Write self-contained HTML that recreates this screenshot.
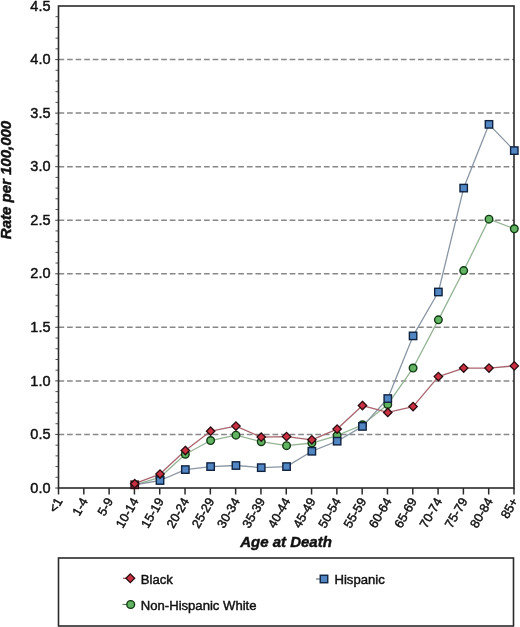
<!DOCTYPE html><html><head><meta charset="utf-8"><style>
html,body{margin:0;padding:0;background:#fff;}
body{width:520px;height:627px;overflow:hidden;position:relative;}
svg{position:absolute;left:0;top:0;will-change:transform;}
text{font-family:"Liberation Sans",sans-serif;fill:#111;stroke:#111;stroke-width:0.45px;}
</style></head><body>
<svg width="520" height="627" viewBox="0 0 520 627">
<line x1="58.50" y1="434.44" x2="514.00" y2="434.44" stroke="#888888" stroke-width="1.5" stroke-dasharray="5.7 2.86"/>
<line x1="58.50" y1="380.89" x2="514.00" y2="380.89" stroke="#888888" stroke-width="1.5" stroke-dasharray="5.7 2.86"/>
<line x1="58.50" y1="327.33" x2="514.00" y2="327.33" stroke="#888888" stroke-width="1.5" stroke-dasharray="5.7 2.86"/>
<line x1="58.50" y1="273.78" x2="514.00" y2="273.78" stroke="#888888" stroke-width="1.5" stroke-dasharray="5.7 2.86"/>
<line x1="58.50" y1="220.22" x2="514.00" y2="220.22" stroke="#888888" stroke-width="1.5" stroke-dasharray="5.7 2.86"/>
<line x1="58.50" y1="166.67" x2="514.00" y2="166.67" stroke="#888888" stroke-width="1.5" stroke-dasharray="5.7 2.86"/>
<line x1="58.50" y1="113.11" x2="514.00" y2="113.11" stroke="#888888" stroke-width="1.5" stroke-dasharray="5.7 2.86"/>
<line x1="58.50" y1="59.56" x2="514.00" y2="59.56" stroke="#888888" stroke-width="1.5" stroke-dasharray="5.7 2.86"/>
<line x1="55.20" y1="488.00" x2="58.50" y2="488.00" stroke="#555" stroke-width="1.1"/>
<line x1="55.50" y1="477.29" x2="58.50" y2="477.29" stroke="#555" stroke-width="1"/>
<line x1="55.50" y1="466.58" x2="58.50" y2="466.58" stroke="#555" stroke-width="1"/>
<line x1="55.50" y1="455.87" x2="58.50" y2="455.87" stroke="#555" stroke-width="1"/>
<line x1="55.50" y1="445.16" x2="58.50" y2="445.16" stroke="#555" stroke-width="1"/>
<line x1="55.20" y1="434.44" x2="58.50" y2="434.44" stroke="#555" stroke-width="1.1"/>
<line x1="55.50" y1="423.73" x2="58.50" y2="423.73" stroke="#555" stroke-width="1"/>
<line x1="55.50" y1="413.02" x2="58.50" y2="413.02" stroke="#555" stroke-width="1"/>
<line x1="55.50" y1="402.31" x2="58.50" y2="402.31" stroke="#555" stroke-width="1"/>
<line x1="55.50" y1="391.60" x2="58.50" y2="391.60" stroke="#555" stroke-width="1"/>
<line x1="55.20" y1="380.89" x2="58.50" y2="380.89" stroke="#555" stroke-width="1.1"/>
<line x1="55.50" y1="370.18" x2="58.50" y2="370.18" stroke="#555" stroke-width="1"/>
<line x1="55.50" y1="359.47" x2="58.50" y2="359.47" stroke="#555" stroke-width="1"/>
<line x1="55.50" y1="348.76" x2="58.50" y2="348.76" stroke="#555" stroke-width="1"/>
<line x1="55.50" y1="338.04" x2="58.50" y2="338.04" stroke="#555" stroke-width="1"/>
<line x1="55.20" y1="327.33" x2="58.50" y2="327.33" stroke="#555" stroke-width="1.1"/>
<line x1="55.50" y1="316.62" x2="58.50" y2="316.62" stroke="#555" stroke-width="1"/>
<line x1="55.50" y1="305.91" x2="58.50" y2="305.91" stroke="#555" stroke-width="1"/>
<line x1="55.50" y1="295.20" x2="58.50" y2="295.20" stroke="#555" stroke-width="1"/>
<line x1="55.50" y1="284.49" x2="58.50" y2="284.49" stroke="#555" stroke-width="1"/>
<line x1="55.20" y1="273.78" x2="58.50" y2="273.78" stroke="#555" stroke-width="1.1"/>
<line x1="55.50" y1="263.07" x2="58.50" y2="263.07" stroke="#555" stroke-width="1"/>
<line x1="55.50" y1="252.36" x2="58.50" y2="252.36" stroke="#555" stroke-width="1"/>
<line x1="55.50" y1="241.64" x2="58.50" y2="241.64" stroke="#555" stroke-width="1"/>
<line x1="55.50" y1="230.93" x2="58.50" y2="230.93" stroke="#555" stroke-width="1"/>
<line x1="55.20" y1="220.22" x2="58.50" y2="220.22" stroke="#555" stroke-width="1.1"/>
<line x1="55.50" y1="209.51" x2="58.50" y2="209.51" stroke="#555" stroke-width="1"/>
<line x1="55.50" y1="198.80" x2="58.50" y2="198.80" stroke="#555" stroke-width="1"/>
<line x1="55.50" y1="188.09" x2="58.50" y2="188.09" stroke="#555" stroke-width="1"/>
<line x1="55.50" y1="177.38" x2="58.50" y2="177.38" stroke="#555" stroke-width="1"/>
<line x1="55.20" y1="166.67" x2="58.50" y2="166.67" stroke="#555" stroke-width="1.1"/>
<line x1="55.50" y1="155.96" x2="58.50" y2="155.96" stroke="#555" stroke-width="1"/>
<line x1="55.50" y1="145.24" x2="58.50" y2="145.24" stroke="#555" stroke-width="1"/>
<line x1="55.50" y1="134.53" x2="58.50" y2="134.53" stroke="#555" stroke-width="1"/>
<line x1="55.50" y1="123.82" x2="58.50" y2="123.82" stroke="#555" stroke-width="1"/>
<line x1="55.20" y1="113.11" x2="58.50" y2="113.11" stroke="#555" stroke-width="1.1"/>
<line x1="55.50" y1="102.40" x2="58.50" y2="102.40" stroke="#555" stroke-width="1"/>
<line x1="55.50" y1="91.69" x2="58.50" y2="91.69" stroke="#555" stroke-width="1"/>
<line x1="55.50" y1="80.98" x2="58.50" y2="80.98" stroke="#555" stroke-width="1"/>
<line x1="55.50" y1="70.27" x2="58.50" y2="70.27" stroke="#555" stroke-width="1"/>
<line x1="55.20" y1="59.56" x2="58.50" y2="59.56" stroke="#555" stroke-width="1.1"/>
<line x1="55.50" y1="48.84" x2="58.50" y2="48.84" stroke="#555" stroke-width="1"/>
<line x1="55.50" y1="38.13" x2="58.50" y2="38.13" stroke="#555" stroke-width="1"/>
<line x1="55.50" y1="27.42" x2="58.50" y2="27.42" stroke="#555" stroke-width="1"/>
<line x1="55.50" y1="16.71" x2="58.50" y2="16.71" stroke="#555" stroke-width="1"/>
<line x1="58.50" y1="488.00" x2="58.50" y2="494.50" stroke="#2a2a2a" stroke-width="1.5"/>
<line x1="83.81" y1="488.00" x2="83.81" y2="494.50" stroke="#2a2a2a" stroke-width="1.5"/>
<line x1="109.11" y1="488.00" x2="109.11" y2="494.50" stroke="#2a2a2a" stroke-width="1.5"/>
<line x1="134.42" y1="488.00" x2="134.42" y2="494.50" stroke="#2a2a2a" stroke-width="1.5"/>
<line x1="159.72" y1="488.00" x2="159.72" y2="494.50" stroke="#2a2a2a" stroke-width="1.5"/>
<line x1="185.03" y1="488.00" x2="185.03" y2="494.50" stroke="#2a2a2a" stroke-width="1.5"/>
<line x1="210.33" y1="488.00" x2="210.33" y2="494.50" stroke="#2a2a2a" stroke-width="1.5"/>
<line x1="235.64" y1="488.00" x2="235.64" y2="494.50" stroke="#2a2a2a" stroke-width="1.5"/>
<line x1="260.94" y1="488.00" x2="260.94" y2="494.50" stroke="#2a2a2a" stroke-width="1.5"/>
<line x1="286.25" y1="488.00" x2="286.25" y2="494.50" stroke="#2a2a2a" stroke-width="1.5"/>
<line x1="311.56" y1="488.00" x2="311.56" y2="494.50" stroke="#2a2a2a" stroke-width="1.5"/>
<line x1="336.86" y1="488.00" x2="336.86" y2="494.50" stroke="#2a2a2a" stroke-width="1.5"/>
<line x1="362.17" y1="488.00" x2="362.17" y2="494.50" stroke="#2a2a2a" stroke-width="1.5"/>
<line x1="387.47" y1="488.00" x2="387.47" y2="494.50" stroke="#2a2a2a" stroke-width="1.5"/>
<line x1="412.78" y1="488.00" x2="412.78" y2="494.50" stroke="#2a2a2a" stroke-width="1.5"/>
<line x1="438.08" y1="488.00" x2="438.08" y2="494.50" stroke="#2a2a2a" stroke-width="1.5"/>
<line x1="463.39" y1="488.00" x2="463.39" y2="494.50" stroke="#2a2a2a" stroke-width="1.5"/>
<line x1="488.69" y1="488.00" x2="488.69" y2="494.50" stroke="#2a2a2a" stroke-width="1.5"/>
<line x1="514.00" y1="488.00" x2="514.00" y2="494.50" stroke="#2a2a2a" stroke-width="1.5"/>
<rect x="58.50" y="6.00" width="455.50" height="482.00" fill="none" stroke="#2a2a2a" stroke-width="1.6"/>
<text x="50.50" y="492.70" font-size="14.5" text-anchor="end">0.0</text>
<text x="50.50" y="439.14" font-size="14.5" text-anchor="end">0.5</text>
<text x="50.50" y="385.59" font-size="14.5" text-anchor="end">1.0</text>
<text x="50.50" y="332.03" font-size="14.5" text-anchor="end">1.5</text>
<text x="50.50" y="278.48" font-size="14.5" text-anchor="end">2.0</text>
<text x="50.50" y="224.92" font-size="14.5" text-anchor="end">2.5</text>
<text x="50.50" y="171.37" font-size="14.5" text-anchor="end">3.0</text>
<text x="50.50" y="117.81" font-size="14.5" text-anchor="end">3.5</text>
<text x="50.50" y="64.26" font-size="14.5" text-anchor="end">4.0</text>
<text x="50.50" y="10.70" font-size="14.5" text-anchor="end">4.5</text>
<text x="0" y="0" font-size="12.6" text-anchor="end" transform="translate(63.00,501.00) rotate(-60)">&lt;1</text>
<text x="0" y="0" font-size="12.6" text-anchor="end" transform="translate(88.31,501.00) rotate(-60)">1-4</text>
<text x="0" y="0" font-size="12.6" text-anchor="end" transform="translate(113.61,501.00) rotate(-60)">5-9</text>
<text x="0" y="0" font-size="12.6" text-anchor="end" transform="translate(138.92,501.00) rotate(-60)">10-14</text>
<text x="0" y="0" font-size="12.6" text-anchor="end" transform="translate(164.22,501.00) rotate(-60)">15-19</text>
<text x="0" y="0" font-size="12.6" text-anchor="end" transform="translate(189.53,501.00) rotate(-60)">20-24</text>
<text x="0" y="0" font-size="12.6" text-anchor="end" transform="translate(214.83,501.00) rotate(-60)">25-29</text>
<text x="0" y="0" font-size="12.6" text-anchor="end" transform="translate(240.14,501.00) rotate(-60)">30-34</text>
<text x="0" y="0" font-size="12.6" text-anchor="end" transform="translate(265.44,501.00) rotate(-60)">35-39</text>
<text x="0" y="0" font-size="12.6" text-anchor="end" transform="translate(290.75,501.00) rotate(-60)">40-44</text>
<text x="0" y="0" font-size="12.6" text-anchor="end" transform="translate(316.06,501.00) rotate(-60)">45-49</text>
<text x="0" y="0" font-size="12.6" text-anchor="end" transform="translate(341.36,501.00) rotate(-60)">50-54</text>
<text x="0" y="0" font-size="12.6" text-anchor="end" transform="translate(366.67,501.00) rotate(-60)">55-59</text>
<text x="0" y="0" font-size="12.6" text-anchor="end" transform="translate(391.97,501.00) rotate(-60)">60-64</text>
<text x="0" y="0" font-size="12.6" text-anchor="end" transform="translate(417.28,501.00) rotate(-60)">65-69</text>
<text x="0" y="0" font-size="12.6" text-anchor="end" transform="translate(442.58,501.00) rotate(-60)">70-74</text>
<text x="0" y="0" font-size="12.6" text-anchor="end" transform="translate(467.89,501.00) rotate(-60)">75-79</text>
<text x="0" y="0" font-size="12.6" text-anchor="end" transform="translate(493.19,501.00) rotate(-60)">80-84</text>
<text x="0" y="0" font-size="12.6" text-anchor="end" transform="translate(518.50,501.00) rotate(-60)">85+</text>
<text x="0" y="0" font-size="15" font-weight="bold" font-style="italic" text-anchor="middle" transform="translate(10.6,180) rotate(-90)">Rate per 100,000</text>
<text x="286" y="547" font-size="15" font-weight="bold" font-style="italic" text-anchor="middle">Age at Death</text>
<polyline points="134.72,484.79 160.02,477.29 185.33,454.26 210.63,440.55 235.94,435.19 261.24,441.73 286.55,445.69 311.86,443.01 337.16,435.52 362.47,424.80 387.77,404.45 413.08,368.04 438.38,319.84 463.69,270.56 488.99,219.15 514.30,228.79" fill="none" stroke="#94b494" stroke-width="1.3" stroke-linejoin="round"/>
<polyline points="134.72,484.79 160.02,480.50 185.33,469.58 210.63,466.58 235.94,465.51 261.24,467.65 286.55,466.58 311.86,451.26 337.16,441.19 362.47,426.41 387.77,398.56 413.08,335.90 438.38,291.99 463.69,188.09 488.99,124.36 514.30,150.60" fill="none" stroke="#8a96a4" stroke-width="1.3" stroke-linejoin="round"/>
<polyline points="134.72,483.72 160.02,474.08 185.33,450.51 210.63,431.23 235.94,426.09 261.24,437.12 286.55,436.59 311.86,439.80 337.16,429.09 362.47,405.52 387.77,412.49 413.08,406.60 438.38,376.60 463.69,368.04 488.99,368.04 514.30,365.89" fill="none" stroke="#a8646c" stroke-width="1.3" stroke-linejoin="round"/>
<circle cx="160.02" cy="477.29" r="3.80" fill="#62b462" stroke="#113a14" stroke-width="1.4"/>
<circle cx="185.33" cy="454.26" r="3.80" fill="#62b462" stroke="#113a14" stroke-width="1.4"/>
<circle cx="210.63" cy="440.55" r="3.80" fill="#62b462" stroke="#113a14" stroke-width="1.4"/>
<circle cx="235.94" cy="435.19" r="3.80" fill="#62b462" stroke="#113a14" stroke-width="1.4"/>
<circle cx="261.24" cy="441.73" r="3.80" fill="#62b462" stroke="#113a14" stroke-width="1.4"/>
<circle cx="286.55" cy="445.69" r="3.80" fill="#62b462" stroke="#113a14" stroke-width="1.4"/>
<circle cx="311.86" cy="443.01" r="3.80" fill="#62b462" stroke="#113a14" stroke-width="1.4"/>
<circle cx="337.16" cy="435.52" r="3.80" fill="#62b462" stroke="#113a14" stroke-width="1.4"/>
<circle cx="362.47" cy="424.80" r="3.80" fill="#62b462" stroke="#113a14" stroke-width="1.4"/>
<circle cx="387.77" cy="404.45" r="3.80" fill="#62b462" stroke="#113a14" stroke-width="1.4"/>
<circle cx="413.08" cy="368.04" r="3.80" fill="#62b462" stroke="#113a14" stroke-width="1.4"/>
<circle cx="438.38" cy="319.84" r="3.80" fill="#62b462" stroke="#113a14" stroke-width="1.4"/>
<circle cx="463.69" cy="270.56" r="3.80" fill="#62b462" stroke="#113a14" stroke-width="1.4"/>
<circle cx="488.99" cy="219.15" r="3.80" fill="#62b462" stroke="#113a14" stroke-width="1.4"/>
<circle cx="514.30" cy="228.79" r="3.80" fill="#62b462" stroke="#113a14" stroke-width="1.4"/>
<rect x="131.02" y="481.09" width="7.40" height="7.40" fill="#7a2232" stroke="#2a0c10" stroke-width="1.4"/>
<rect x="156.32" y="476.80" width="7.40" height="7.40" fill="#5286c2" stroke="#0f2240" stroke-width="1.4"/>
<rect x="181.63" y="465.88" width="7.40" height="7.40" fill="#5286c2" stroke="#0f2240" stroke-width="1.4"/>
<rect x="206.93" y="462.88" width="7.40" height="7.40" fill="#5286c2" stroke="#0f2240" stroke-width="1.4"/>
<rect x="232.24" y="461.81" width="7.40" height="7.40" fill="#5286c2" stroke="#0f2240" stroke-width="1.4"/>
<rect x="257.54" y="463.95" width="7.40" height="7.40" fill="#5286c2" stroke="#0f2240" stroke-width="1.4"/>
<rect x="282.85" y="462.88" width="7.40" height="7.40" fill="#5286c2" stroke="#0f2240" stroke-width="1.4"/>
<rect x="308.16" y="447.56" width="7.40" height="7.40" fill="#5286c2" stroke="#0f2240" stroke-width="1.4"/>
<rect x="333.46" y="437.49" width="7.40" height="7.40" fill="#5286c2" stroke="#0f2240" stroke-width="1.4"/>
<rect x="358.77" y="422.71" width="7.40" height="7.40" fill="#5286c2" stroke="#0f2240" stroke-width="1.4"/>
<rect x="384.07" y="394.86" width="7.40" height="7.40" fill="#5286c2" stroke="#0f2240" stroke-width="1.4"/>
<rect x="409.38" y="332.20" width="7.40" height="7.40" fill="#5286c2" stroke="#0f2240" stroke-width="1.4"/>
<rect x="434.68" y="288.29" width="7.40" height="7.40" fill="#5286c2" stroke="#0f2240" stroke-width="1.4"/>
<rect x="459.99" y="184.39" width="7.40" height="7.40" fill="#5286c2" stroke="#0f2240" stroke-width="1.4"/>
<rect x="485.29" y="120.66" width="7.40" height="7.40" fill="#5286c2" stroke="#0f2240" stroke-width="1.4"/>
<rect x="510.60" y="146.90" width="7.40" height="7.40" fill="#5286c2" stroke="#0f2240" stroke-width="1.4"/>
<path d="M134.72,479.52 L138.92,483.72 L134.72,487.92 L130.52,483.72 Z" fill="#c93042" stroke="#2a0c10" stroke-width="1.3"/>
<path d="M160.02,469.88 L164.22,474.08 L160.02,478.28 L155.82,474.08 Z" fill="#c93042" stroke="#2a0c10" stroke-width="1.3"/>
<path d="M185.33,446.31 L189.53,450.51 L185.33,454.71 L181.13,450.51 Z" fill="#c93042" stroke="#2a0c10" stroke-width="1.3"/>
<path d="M210.63,427.03 L214.83,431.23 L210.63,435.43 L206.43,431.23 Z" fill="#c93042" stroke="#2a0c10" stroke-width="1.3"/>
<path d="M235.94,421.89 L240.14,426.09 L235.94,430.29 L231.74,426.09 Z" fill="#c93042" stroke="#2a0c10" stroke-width="1.3"/>
<path d="M261.24,432.92 L265.44,437.12 L261.24,441.32 L257.04,437.12 Z" fill="#c93042" stroke="#2a0c10" stroke-width="1.3"/>
<path d="M286.55,432.39 L290.75,436.59 L286.55,440.79 L282.35,436.59 Z" fill="#c93042" stroke="#2a0c10" stroke-width="1.3"/>
<path d="M311.86,435.60 L316.06,439.80 L311.86,444.00 L307.66,439.80 Z" fill="#c93042" stroke="#2a0c10" stroke-width="1.3"/>
<path d="M337.16,424.89 L341.36,429.09 L337.16,433.29 L332.96,429.09 Z" fill="#c93042" stroke="#2a0c10" stroke-width="1.3"/>
<path d="M362.47,401.32 L366.67,405.52 L362.47,409.72 L358.27,405.52 Z" fill="#c93042" stroke="#2a0c10" stroke-width="1.3"/>
<path d="M387.77,408.29 L391.97,412.49 L387.77,416.69 L383.57,412.49 Z" fill="#c93042" stroke="#2a0c10" stroke-width="1.3"/>
<path d="M413.08,402.40 L417.28,406.60 L413.08,410.80 L408.88,406.60 Z" fill="#c93042" stroke="#2a0c10" stroke-width="1.3"/>
<path d="M438.38,372.40 L442.58,376.60 L438.38,380.80 L434.18,376.60 Z" fill="#c93042" stroke="#2a0c10" stroke-width="1.3"/>
<path d="M463.69,363.84 L467.89,368.04 L463.69,372.24 L459.49,368.04 Z" fill="#c93042" stroke="#2a0c10" stroke-width="1.3"/>
<path d="M488.99,363.84 L493.19,368.04 L488.99,372.24 L484.79,368.04 Z" fill="#c93042" stroke="#2a0c10" stroke-width="1.3"/>
<path d="M514.30,361.69 L518.50,365.89 L514.30,370.09 L510.10,365.89 Z" fill="#c93042" stroke="#2a0c10" stroke-width="1.3"/>
<rect x="58.5" y="558" width="455" height="68" fill="none" stroke="#2a2a2a" stroke-width="1.6"/>
<line x1="123" y1="578.3" x2="130" y2="578.3" stroke="#80444c" stroke-width="1.1"/>
<path d="M130.30,573.90 L134.70,578.30 L130.30,582.70 L125.90,578.30 Z" fill="#c93042" stroke="#2a0c10" stroke-width="1.3"/>
<text x="140.8" y="584" font-size="13.1">Black</text>
<line x1="316" y1="579" x2="324" y2="579" stroke="#5a6470" stroke-width="1.1"/>
<rect x="320.25" y="575.25" width="7.50" height="7.50" fill="#5286c2" stroke="#0f2240" stroke-width="1.4"/>
<text x="334.5" y="584" font-size="13.1">Hispanic</text>
<line x1="122.5" y1="604.5" x2="130.5" y2="604.5" stroke="#5e7a5e" stroke-width="1.1"/>
<circle cx="130.70" cy="604.50" r="3.90" fill="#62b462" stroke="#113a14" stroke-width="1.4"/>
<text x="140.8" y="610" font-size="13.1">Non-Hispanic White</text>
</svg></body></html>
